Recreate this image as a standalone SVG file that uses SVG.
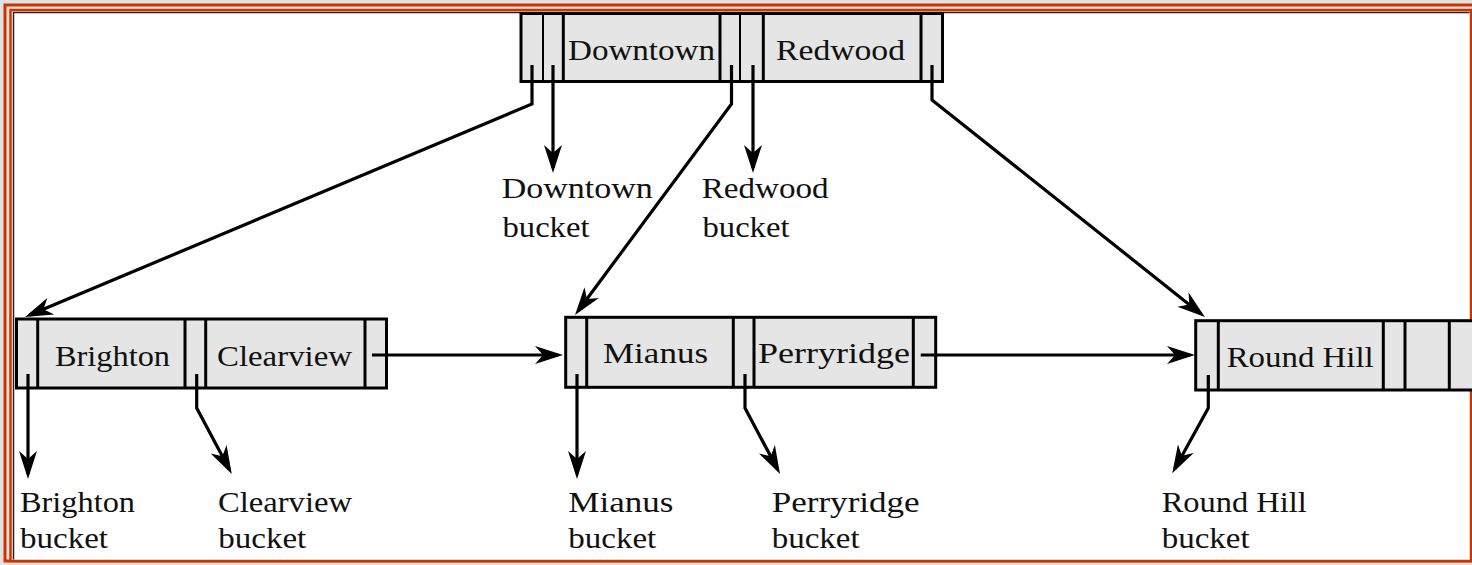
<svg xmlns="http://www.w3.org/2000/svg" width="1472" height="565" viewBox="0 0 1472 565">
<style>
.node{fill:#e5e5e5;stroke:#000;stroke-width:3}
.dv{stroke:#000;stroke-width:3}
.dt{stroke:#000;stroke-width:2}
.t{font-family:"Liberation Serif","Times New Roman",serif;font-size:30px;fill:#111}
.c{fill:none;stroke:#000;stroke-width:3.2;stroke-linejoin:miter;marker-end:url(#ah)}
</style>
<defs>
<marker id="ah" markerUnits="userSpaceOnUse" viewBox="-30 -11 32 22" markerWidth="32" markerHeight="22" refX="-5" refY="0" orient="auto" overflow="visible">
<path d="M0,0 L-28,-9 L-20,0 L-28,9 Z" fill="#000"/>
</marker>
</defs>
<g id="frame">
<rect x="0" y="0" width="1472" height="565" fill="#e2e2e2"/>
<rect x="5" y="5" width="1490" height="556" fill="#f2e4dc" stroke="#cc3300" stroke-width="3"/>
<rect x="10.5" y="10" width="1460.5" height="551" fill="#ffffff" stroke="#cc3300" stroke-width="2.5"/>
<path d="M13.5,559.5 V12.5 H1469.5" fill="none" stroke="#222" stroke-width="1.5"/>
</g>
<g id="node-root">
<rect class="node" x="521" y="13.5" width="421.5" height="68"/>
<line class="dt" x1="543" y1="13.5" x2="543" y2="81.5"/>
<line class="dv" x1="563.3" y1="13.5" x2="563.3" y2="81.5"/>
<line class="dv" x1="720" y1="13.5" x2="720" y2="81.5"/>
<line class="dt" x1="740" y1="13.5" x2="740" y2="81.5"/>
<line class="dv" x1="763.3" y1="13.5" x2="763.3" y2="81.5"/>
<line class="dv" x1="921" y1="13.5" x2="921" y2="81.5"/>
<text class="t" x="568" y="59.5" textLength="147" lengthAdjust="spacingAndGlyphs">Downtown</text>
<text class="t" x="776" y="59.5" textLength="129" lengthAdjust="spacingAndGlyphs">Redwood</text>
</g>
<g id="node-brighton">
<rect class="node" x="16.5" y="319" width="370" height="69"/>
<line class="dv" x1="37.7" y1="319" x2="37.7" y2="388"/>
<line class="dv" x1="185" y1="319" x2="185" y2="388"/>
<line class="dv" x1="205.7" y1="319" x2="205.7" y2="388"/>
<line class="dv" x1="365" y1="319" x2="365" y2="388"/>
<text class="t" x="55" y="365.7" textLength="115" lengthAdjust="spacingAndGlyphs">Brighton</text>
<text class="t" x="217" y="366" textLength="135" lengthAdjust="spacingAndGlyphs">Clearview</text>
</g>
<g id="node-mianus">
<rect class="node" x="565.7" y="317.3" width="370" height="70"/>
<line class="dv" x1="586.7" y1="317.3" x2="586.7" y2="387.3"/>
<line class="dv" x1="733.3" y1="317.3" x2="733.3" y2="387.3"/>
<line class="dv" x1="754" y1="317.3" x2="754" y2="387.3"/>
<line class="dv" x1="913.3" y1="317.3" x2="913.3" y2="387.3"/>
<text class="t" x="603" y="363" textLength="105" lengthAdjust="spacingAndGlyphs">Mianus</text>
<text class="t" x="758" y="363" textLength="152" lengthAdjust="spacingAndGlyphs">Perryridge</text>
</g>
<g id="node-roundhill">
<rect class="node" x="1195.7" y="320.7" width="290" height="69.3"/>
<line class="dv" x1="1218.3" y1="320.7" x2="1218.3" y2="390"/>
<line class="dv" x1="1383.3" y1="320.7" x2="1383.3" y2="390"/>
<line class="dv" x1="1405" y1="320.7" x2="1405" y2="390"/>
<line class="dv" x1="1449.3" y1="320.7" x2="1449.3" y2="390"/>
<text class="t" x="1226.7" y="367.3" textLength="147" lengthAdjust="spacingAndGlyphs">Round Hill</text>
</g>
<g id="connectors">
<path class="c" d="M532,65 V104 L29.6,315.1"/>
<path class="c" d="M553,65 V168"/>
<path class="c" d="M731.5,65 V104 L578,311"/>
<path class="c" d="M753,65 V168"/>
<path class="c" d="M932,65 V100 L1201,313.9"/>
<path class="c" d="M372,355 H558"/>
<path class="c" d="M920.7,355 H1190"/>
<path class="c" d="M28,374 V474"/>
<path class="c" d="M196.7,374 V408 L229.4,469.6"/>
<path class="c" d="M577,374 V474"/>
<path class="c" d="M745,374 V408 L777.7,469.6"/>
<path class="c" d="M1208.3,375 V408 L1174.7,468.9"/>
</g>
<g id="label-downtown">
<text class="t" x="501.7" y="198" textLength="151" lengthAdjust="spacingAndGlyphs">Downtown</text>
<text class="t" x="502.5" y="237" textLength="87" lengthAdjust="spacingAndGlyphs">bucket</text>
</g>
<g id="label-redwood">
<text class="t" x="701.7" y="198" textLength="127" lengthAdjust="spacingAndGlyphs">Redwood</text>
<text class="t" x="702.5" y="237" textLength="87" lengthAdjust="spacingAndGlyphs">bucket</text>
</g>
<g id="label-brighton">
<text class="t" x="20" y="512" textLength="115" lengthAdjust="spacingAndGlyphs">Brighton</text>
<text class="t" x="20" y="548.3" textLength="88" lengthAdjust="spacingAndGlyphs">bucket</text>
</g>
<g id="label-clearview">
<text class="t" x="218" y="512" textLength="134" lengthAdjust="spacingAndGlyphs">Clearview</text>
<text class="t" x="218.3" y="548.3" textLength="88" lengthAdjust="spacingAndGlyphs">bucket</text>
</g>
<g id="label-mianus">
<text class="t" x="568.3" y="512" textLength="105" lengthAdjust="spacingAndGlyphs">Mianus</text>
<text class="t" x="568.3" y="548.3" textLength="88" lengthAdjust="spacingAndGlyphs">bucket</text>
</g>
<g id="label-perryridge">
<text class="t" x="771.7" y="512" textLength="148" lengthAdjust="spacingAndGlyphs">Perryridge</text>
<text class="t" x="771.7" y="548.3" textLength="88" lengthAdjust="spacingAndGlyphs">bucket</text>
</g>
<g id="label-roundhill">
<text class="t" x="1161.7" y="512" textLength="145" lengthAdjust="spacingAndGlyphs">Round Hill</text>
<text class="t" x="1161.7" y="548.3" textLength="88" lengthAdjust="spacingAndGlyphs">bucket</text>
</g>
</svg>
